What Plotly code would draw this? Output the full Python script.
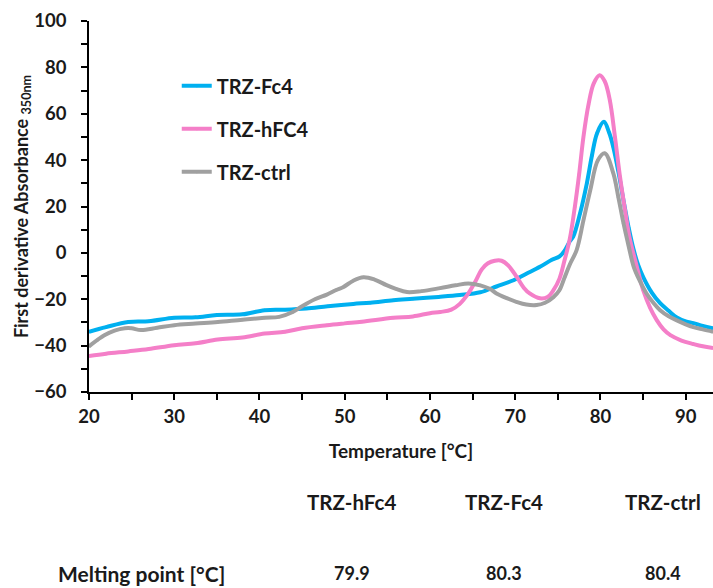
import plotly.graph_objects as go

# ---------------- data ----------------
fc4_T = [20, 22, 24.6, 27, 30, 32.5, 35, 38, 40.6, 43, 45.5, 48, 51, 53, 55.7, 58, 61, 63.5,
         65.9, 67.8, 69.8, 71.3, 72.9, 74.3, 75.2, 75.8, 76.4, 76.8, 77.6, 78.4, 79, 79.6,
         80.4, 81, 81.5, 82.1, 82.7, 83.3, 83.9, 84.4, 85, 86, 87, 88, 88.9, 90, 90.9, 92, 93.2]
fc4_v = [-34, -32, -29.8, -29.5, -28, -27.8, -26.8, -26.5, -24.7, -24.5, -24, -23, -22, -21.5,
         -20.4, -19.8, -19, -18.2, -17, -14.5, -11.8, -9, -6, -3, -1.5, 1, 5, 7, 17, 30, 42, 51.6,
         56.5, 52, 45.7, 35, 22.7, 11, 1.2, -5, -10.3, -17, -21.7, -25, -27.7, -29.5, -30.3, -31.5, -32.5]

hfc4_T = [20, 22, 24.6, 27, 30, 32.5, 35.1, 38, 40.6, 43, 45, 47.9, 50, 52, 55.7, 58, 60, 61.2,
          62.5, 63.5, 64.5, 65.3, 66.1, 66.8, 67.6, 68.4, 69.2, 70.2, 71, 71.7, 72.9, 73.8, 74.5,
          75.2, 75.8, 76.4, 77, 77.5, 78, 78.6, 79.2, 79.9, 80.5, 81.1, 81.7, 82.3, 82.9, 83.4,
          84.2, 85, 85.8, 86.6, 87.4, 88.2, 89.5, 90.9, 92, 93.2]
hfc4_v = [-44.5, -43.5, -42.5, -41.5, -39.8, -39, -37.4, -36.5, -34.8, -34, -32.5, -31.2, -30.4,
          -29.7, -28, -27.4, -26, -25.5, -24.5, -22, -17.5, -12.5, -7, -4.5, -3.4, -3.4, -5.5,
          -10.5, -15, -17.5, -19.6, -19, -16, -11, -3, 6, 20, 34, 50, 64, 73, 76.6, 74, 65.8, 50,
          32.6, 18, 6.8, -5, -16, -23.5, -29, -33, -35.5, -37.8, -39.3, -40.3, -41]

ctrl_T = [20, 21, 21.8, 23, 24.2, 25, 26.1, 28, 30, 32.5, 35.1, 38, 40.6, 42.3, 43.9, 45, 46.5,
          47.9, 49, 49.8, 51, 52.2, 53.5, 54.9, 56, 57.3, 59, 61.2, 63, 64.5, 65.9, 67, 67.8, 69,
          70.2, 71.3, 72.5, 73.5, 74.5, 75.2, 75.8, 76.4, 77.2, 78, 78.8, 79.7, 80.5, 81.5, 82.1,
          82.7, 83.3, 83.9, 84.6, 85.4, 86.2, 87, 88, 88.9, 90, 90.9, 92, 93.2]
ctrl_v = [-40.3, -37.5, -35.5, -33.5, -32.5, -32.5, -33.3, -32.3, -31.2, -30.5, -29.8, -28.8,
          -28, -27.6, -25.5, -23, -20, -18, -16, -14.8, -12, -10.5, -11.5, -13.9, -15.5, -16.9,
          -16.5, -15.2, -14, -13.2, -14, -15.5, -17.5, -19.5, -21.2, -22.3, -22.5, -21.5, -19,
          -16, -10.5, -5, 1.2, 14, 27, 40, 43, 34.4, 24, 12.8, 3, -6, -12, -17.5, -21.5, -24.7,
          -27.3, -29, -30.8, -32, -33, -34]

series_names = ["TRZ-Fc4", "TRZ-hFC4", "TRZ-ctrl"]
series_colors = ["#00B0F0", "#F47FC8", "#A0A0A0"]

table_samples = ["TRZ-hFc4", "TRZ-Fc4", "TRZ-ctrl"]
melting_points = ["79.9", "80.3", "80.4"]
table_label = "Melting point [°C]"

y_ticks = [-60, -40, -20, 0, 20, 40, 60, 80, 100]
x_ticks = [20, 30, 40, 50, 60, 70, 80, 90]

# ---------------- figure ----------------
FONT = "Lato"
INK = "#1a1a1a"
fig = go.Figure()
for name, T, v, c in zip(series_names, [fc4_T, hfc4_T, ctrl_T], [fc4_v, hfc4_v, ctrl_v], series_colors):
    fig.add_trace(go.Scatter(
        x=T, y=v, name=name, mode="lines+markers", legendgroup=name,
        line=dict(color=c, width=4, shape="spline", smoothing=1.0),
        marker=dict(size=3, color=c),
    ))

# table below the chart (paper coordinates)
L, R, TOP, BOT = 89.3, 713.0, 20.7, 391.7
def px_x(px):
    return (px - L) / (R - L)
def px_y(py):
    return (BOT - py) / (BOT - TOP)

sample_px = [352, 504, 663]
for s, m, xp in zip(table_samples, melting_points, sample_px):
    fig.add_annotation(text=s, x=px_x(xp), y=px_y(502), xref="paper", yref="paper",
                       showarrow=False, xanchor="center", yanchor="middle",
                       font=dict(family=FONT, size=20.5, color=INK, weight="bold"))
    fig.add_annotation(text=m, x=px_x(xp), y=px_y(573), xref="paper", yref="paper",
                       showarrow=False, xanchor="center", yanchor="middle",
                       font=dict(family=FONT, size=18, color=INK, weight="bold"))
fig.add_annotation(text=table_label, x=px_x(142), y=px_y(573), xref="paper", yref="paper",
                   showarrow=False, xanchor="center", yanchor="middle",
                   font=dict(family=FONT, size=21, color=INK, weight="bold"))

fig.update_layout(
    width=713, height=588,
    margin=dict(l=89.3, r=0, t=20.7, b=196.3),
    paper_bgcolor="white", plot_bgcolor="white",
    font=dict(family=FONT, color=INK),
    showlegend=True,
    legend=dict(x=px_x(177), y=px_y(66), xanchor="left", yanchor="top",
                font=dict(family=FONT, size=20, color=INK, weight="bold"),
                traceorder="grouped", tracegroupgap=14, bgcolor="rgba(0,0,0,0)",
                itemwidth=30),
    xaxis=dict(
        range=[20, 93.2], tickvals=x_ticks, showgrid=False, zeroline=False,
        showline=True, linecolor="black", linewidth=1.5,
        ticks="outside", ticklen=6, tickwidth=1.5, tickcolor="black",
        minor=dict(dtick=5, tick0=0, ticks="outside", ticklen=6, tickwidth=1.5, tickcolor="black"),
        tickfont=dict(family=FONT, size=18.5, color=INK, weight="bold"),
        ticklabelstandoff=1,
        title=dict(text="Temperature [°C]", standoff=19,
                   font=dict(family=FONT, size=19, color=INK, weight="bold")),
    ),
    yaxis=dict(
        range=[-60, 100], tickvals=y_ticks, showgrid=False, zeroline=False,
        showline=True, linecolor="black", linewidth=1.5,
        ticks="outside", ticklen=6, tickwidth=1.5, tickcolor="black",
        minor=dict(dtick=10, tick0=0, ticks="outside", ticklen=6, tickwidth=1.5, tickcolor="black"),
        tickfont=dict(family=FONT, size=18.5, color=INK, weight="bold"),
        ticklabelstandoff=11,
        title=dict(text="First derivative Absorbance <sub>350nm</sub>", standoff=0,
                   font=dict(family=FONT, size=18, color=INK, weight="bold")),
    ),
)

fig.write_html("out.html")
